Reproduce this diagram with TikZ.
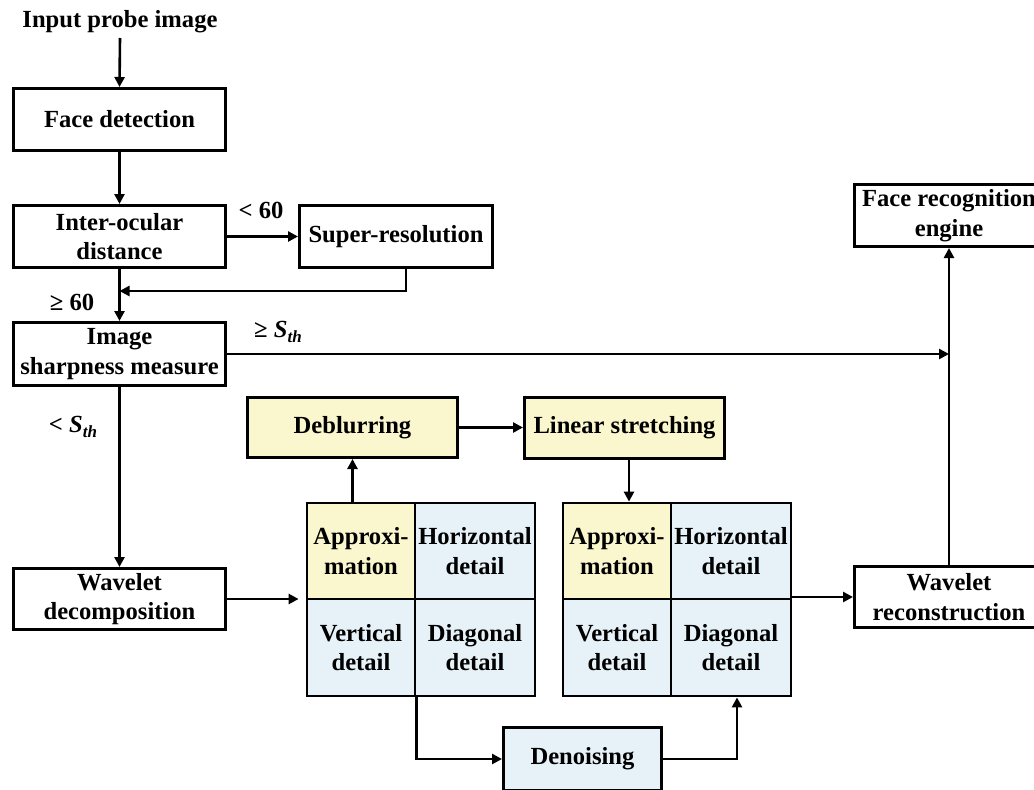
\documentclass[tikz,border=0pt]{standalone}
\usepackage{fontspec}
\setmainfont{Liberation Serif}
\usetikzlibrary{arrows.meta}
\definecolor{approxfill}{RGB}{250,246,206}
\definecolor{detailfill}{RGB}{231,242,248}
\newcommand\flowfont{\fontsize{24.6pt}{29.5pt}\selectfont\bfseries}
\newcommand\sth{\textit{S}\raisebox{-0.22em}{\fontsize{17pt}{17pt}\selectfont\textit{th}}}
\tikzset{
  lbl/.style={font=\flowfont, inner sep=0pt},
  box/.style={draw, line width=3pt, font=\flowfont, align=center, inner sep=0pt},
  cell/.style={box, line width=2.8pt},
  arr/.style={line width=2.6pt, -{Triangle[length=10pt,width=10pt]}},
}
\begin{document}
\begin{tikzpicture}[x=1pt,y=-1pt]
\useasboundingbox (0,0) rectangle (1034,790);
\clip (0,0) rectangle (1034,790);

% main pipeline on the left
\node[lbl, anchor=base] (input) at (120,27) {Input probe image};
\node[box, minimum width=212pt, minimum height=62pt] (fd) at (119.5,119.5) {Face detection};
\node[box, minimum width=212pt, minimum height=62pt] (io) at (119.5,236.5) {Inter-ocular\\distance};
\node[box, minimum width=193pt, minimum height=62pt] (sr) at (396,236.5) {Super-resolution};
\node[box, minimum width=212pt, minimum height=63pt] (sm) at (119.5,354) {Image\\sharpness measure};
\node[box, minimum width=212pt, minimum height=61pt] (wd) at (119.5,599) {Wavelet\\decomposition};

% processing of the sub-bands
\node[box, fill=approxfill, minimum width=210pt, minimum height=60pt] (db) at (352.5,427.5) {Deblurring};
\node[box, fill=approxfill, minimum width=200pt, minimum height=61pt] (ls) at (624.5,428) {Linear stretching};
\node[box, fill=detailfill, minimum width=158pt, minimum height=63pt] (dn) at (582.5,759) {Denoising};

% first sub-band grid
\node[cell, fill=approxfill, minimum width=108pt, minimum height=96pt] (approx1) at (361,551) {Approxi-\\mation};
\node[cell, fill=detailfill, minimum width=120pt, minimum height=96pt] (horiz1) at (475,551) {Horizontal\\detail};
\node[cell, fill=detailfill, minimum width=108pt, minimum height=97pt] (vert1) at (361,647.5) {Vertical\\detail};
\node[cell, fill=detailfill, minimum width=120pt, minimum height=97pt] (diag1) at (475,647.5) {Diagonal\\detail};

% second sub-band grid
\node[cell, fill=approxfill, minimum width=108pt, minimum height=96pt] (approx2) at (617,551) {Approxi-\\mation};
\node[cell, fill=detailfill, minimum width=120pt, minimum height=96pt] (horiz2) at (731,551) {Horizontal\\detail};
\node[cell, fill=detailfill, minimum width=108pt, minimum height=97pt] (vert2) at (617,647.5) {Vertical\\detail};
\node[cell, fill=detailfill, minimum width=120pt, minimum height=97pt] (diag2) at (731,647.5) {Diagonal\\detail};

% output side
\node[box, minimum width=189pt, minimum height=61pt] (wr) at (949,597) {Wavelet\\reconstruction};
\node[box, minimum width=189pt, minimum height=62pt] (fr) at (949,215.5) {Face recognition\\engine};

% branch labels
\node[lbl, anchor=base] (lt60) at (261,218) {< 60};
\node[lbl, anchor=base] (ge60) at (72,310) {≥ 60};
\node[lbl, anchor=base] (gesth) at (278,337) {≥ \sth};
\node[lbl, anchor=base] (ltsth) at (73,432) {< \sth};

% connectors
\coordinate (merge) at (119.5,291);
\draw[arr] ([yshift=-11pt]input.base) -- (fd.north);
\draw[arr] (fd.south) -- (io.north);
\draw[arr] (io.east) -- (sr.west);
\draw[arr] ([xshift=10pt]sr.south) |- (merge);
\draw[arr] (io.south) -- (sm.north);
\draw[arr] (sm.east) -- (sm.east -| wr.north);
\draw[arr] (wr.north) -- (fr.south);
\draw[arr] (sm.south) -- (wd.north);
\draw[arr] (wd.east) -- ([xshift=-7pt]approx1.west |- wd.east);
\draw[arr] (db.south |- approx1.north) -- (db.south);
\draw[arr] (db.east) -- (db.east -| ls.west);
\draw[arr] ([xshift=4.5pt]ls.south) -- ([xshift=4.5pt]ls.south |- approx2.north);
\draw[arr] (vert1.south east) |- (dn.west);
\draw[arr] (dn.east) -| ([xshift=6pt]diag2.south);
\draw[arr] (wr.west -| horiz2.east) -- (wr.west);
\end{tikzpicture}
\end{document}
